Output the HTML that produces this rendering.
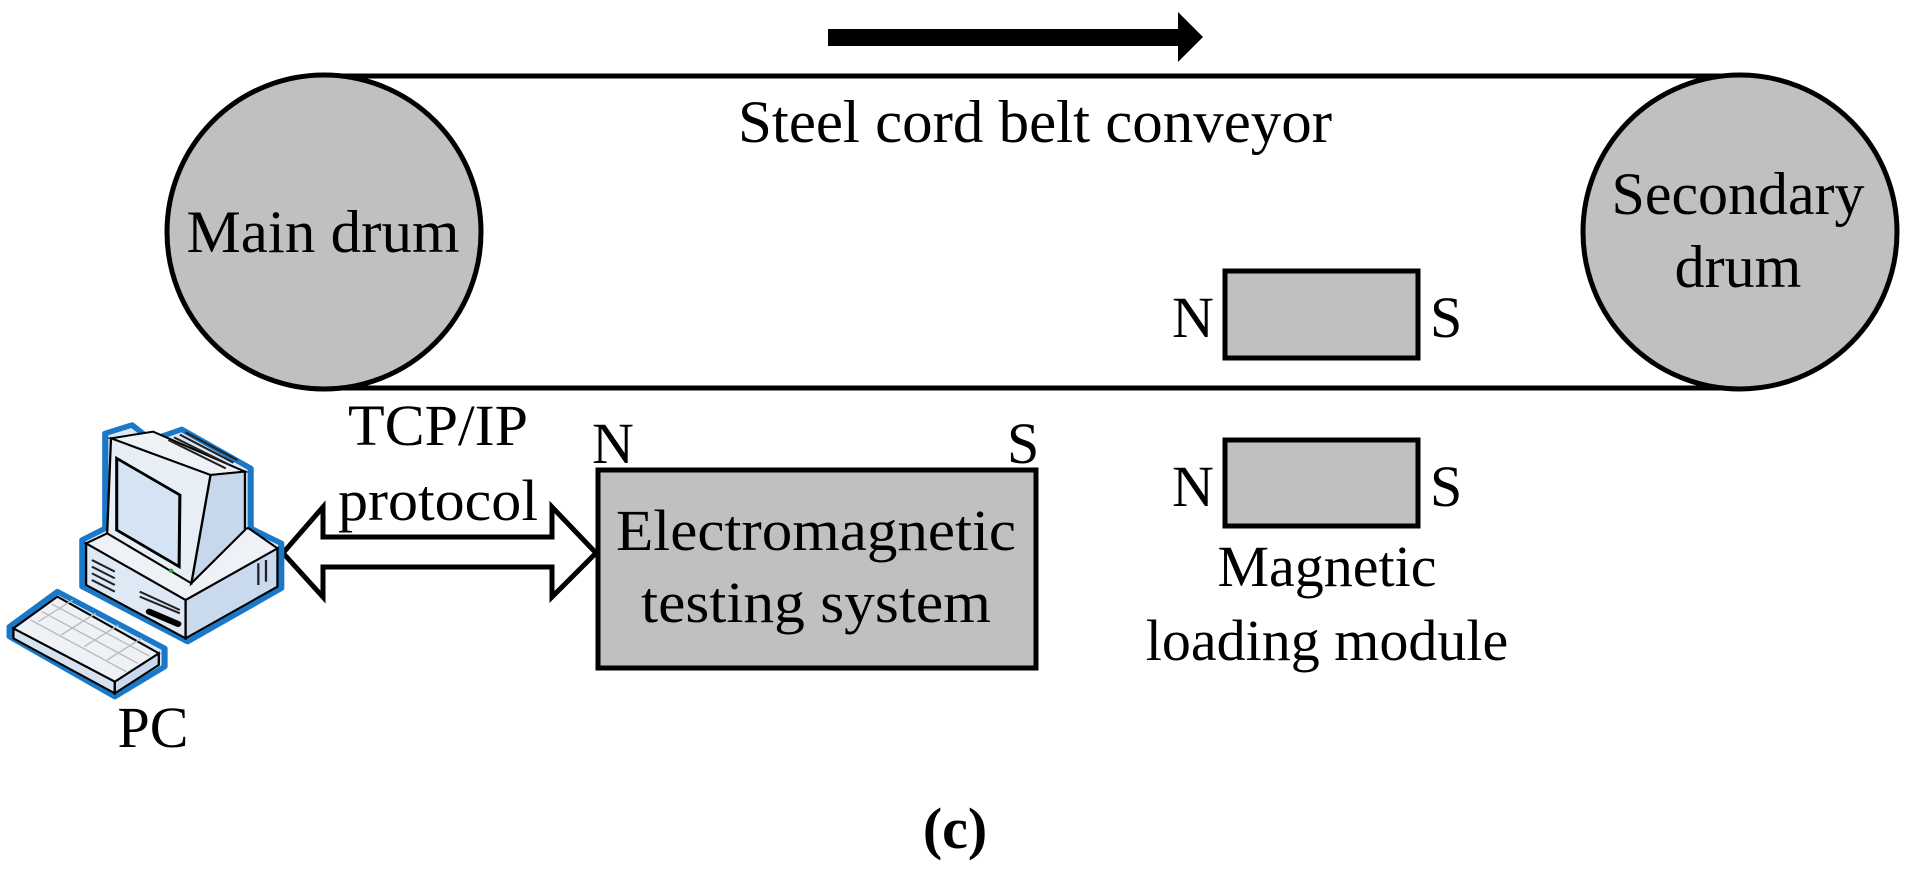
<!DOCTYPE html>
<html><head><meta charset="utf-8"><style>
html,body{margin:0;padding:0;background:#fff;}
svg{display:block;}
text{font-family:"Liberation Serif",serif;fill:#000;}
</style></head><body>
<svg width="1908" height="872" viewBox="0 0 1908 872" xmlns="http://www.w3.org/2000/svg">
<!-- direction arrow -->
<polygon points="828,29 1178,29 1178,12 1203,37 1178,62 1178,46 828,46" fill="#000"/>
<!-- belt -->
<line x1="324" y1="76" x2="1740" y2="76" stroke="#000" stroke-width="5"/>
<line x1="324" y1="388" x2="1740" y2="388" stroke="#000" stroke-width="5"/>
<circle cx="324" cy="232" r="157" fill="#c0c0c0" stroke="#000" stroke-width="5"/>
<circle cx="1740" cy="232" r="157" fill="#c0c0c0" stroke="#000" stroke-width="5"/>
<text x="1035" y="142" font-size="60" text-anchor="middle" textLength="594" lengthAdjust="spacingAndGlyphs">Steel cord belt conveyor</text>
<text x="323" y="252" font-size="60" text-anchor="middle" textLength="273" lengthAdjust="spacingAndGlyphs">Main drum</text>
<text x="1738" y="214" font-size="60" text-anchor="middle" textLength="253" lengthAdjust="spacingAndGlyphs">Secondary</text>
<text x="1738" y="287" font-size="60" text-anchor="middle">drum</text>
<!-- magnets -->
<rect x="1225" y="271" width="193" height="87" fill="#c0c0c0" stroke="#000" stroke-width="5"/>
<rect x="1225" y="440" width="193" height="86" fill="#c0c0c0" stroke="#000" stroke-width="5"/>
<text x="1172" y="337" font-size="58">N</text>
<text x="1430" y="337" font-size="58">S</text>
<text x="1172" y="506" font-size="58">N</text>
<text x="1430" y="506" font-size="58">S</text>
<text x="1327" y="586" font-size="58" text-anchor="middle">Magnetic</text>
<text x="1327" y="660" font-size="58" text-anchor="middle">loading module</text>
<!-- EM box -->
<rect x="598" y="470" width="438" height="198" fill="#c0c0c0" stroke="#000" stroke-width="5"/>
<text x="592" y="463" font-size="58">N</text>
<text x="1007" y="463" font-size="58">S</text>
<text x="816" y="550" font-size="58" text-anchor="middle" textLength="400" lengthAdjust="spacingAndGlyphs">Electromagnetic</text>
<text x="816" y="622" font-size="58" text-anchor="middle" textLength="350" lengthAdjust="spacingAndGlyphs">testing system</text>
<!-- double arrow -->
<polygon points="283,553 323,507 323,537 552,537 552,507 596,553 552,597 552,567 323,567 323,597" fill="#fff" stroke="#000" stroke-width="5" stroke-linejoin="miter"/>
<text x="438" y="445" font-size="58" text-anchor="middle" textLength="180" lengthAdjust="spacingAndGlyphs">TCP/IP</text>
<text x="438" y="520" font-size="58" text-anchor="middle" textLength="200" lengthAdjust="spacingAndGlyphs">protocol</text>
<!-- PC icon -->
<g transform="translate(0,400) scale(0.3827,0.3333)">
  <polygon points="275,100 345,75 395,120 475,88 655,205 655,385 735,430 735,565 490,725 215,560 215,420 275,385" fill="#dde8f4" stroke="#1a78c8" stroke-width="16" stroke-linejoin="round"/>
  <polygon points="225,430 485,600 485,715 225,555" fill="#dfe9f5" stroke="#000" stroke-width="6"/>
  <polygon points="485,600 725,445 725,560 485,715" fill="#c9daee" stroke="#000" stroke-width="6"/>
  <polygon points="225,430 280,400 650,385 725,445 485,600" fill="#eef2f6" stroke="#000" stroke-width="6"/>
  <polygon points="290,115 400,95 640,215 550,225" fill="#eef2f6" stroke="#000" stroke-width="6"/>
  <polygon points="550,225 640,215 640,390 500,550" fill="#c8d8ec" stroke="#000" stroke-width="6"/>
  <polygon points="290,115 550,225 500,550 280,400" fill="#e8eef5" stroke="#000" stroke-width="6"/>
  <polygon points="305,175 470,285 468,500 305,390" fill="#d4e4f4" stroke="#000" stroke-width="8"/>
  <circle cx="447" cy="512" r="6" fill="#2a2" />
  <g stroke="#222" stroke-width="6">
    <line x1="440" y1="120" x2="590" y2="205"/><line x1="455" y1="112" x2="600" y2="195"/>
    <line x1="470" y1="104" x2="610" y2="188"/><line x1="485" y1="97" x2="620" y2="180"/>
    <line x1="240" y1="480" x2="300" y2="515"/><line x1="240" y1="500" x2="300" y2="535"/>
    <line x1="240" y1="520" x2="300" y2="555"/><line x1="240" y1="540" x2="300" y2="575"/>
    <line x1="365" y1="575" x2="470" y2="630"/><line x1="365" y1="590" x2="470" y2="640"/>
    <line x1="675" y1="490" x2="675" y2="555"/><line x1="695" y1="480" x2="695" y2="545"/>
  </g>
  <line x1="390" y1="635" x2="465" y2="672" stroke="#000" stroke-width="18" stroke-linecap="round"/>
  <polygon points="25,680 150,575 430,745 430,800 300,890 25,710" fill="#dde8f4" stroke="#1a78c8" stroke-width="16" stroke-linejoin="round"/>
  <polygon points="35,685 300,845 300,880 35,715" fill="#d5e2f0" stroke="#000" stroke-width="6"/>
  <polygon points="300,845 415,760 415,795 300,880" fill="#c9daee" stroke="#000" stroke-width="6"/>
  <polygon points="35,685 150,590 415,760 300,845" fill="#eef2f6" stroke="#000" stroke-width="6"/>
  <g stroke="#bbb" stroke-width="4">
    <line x1="80" y1="660" x2="330" y2="815"/><line x1="110" y1="635" x2="360" y2="790"/>
    <line x1="135" y1="612" x2="390" y2="768"/>
    <line x1="100" y1="665" x2="190" y2="600"/><line x1="160" y1="705" x2="250" y2="640"/>
    <line x1="220" y1="740" x2="310" y2="675"/><line x1="280" y1="780" x2="370" y2="715"/>
  </g>
</g>
<text x="153" y="747" font-size="58" text-anchor="middle">PC</text>
<!-- caption -->
<text x="955" y="848" font-size="58" font-weight="bold" text-anchor="middle">(c)</text>
</svg>
</body></html>
